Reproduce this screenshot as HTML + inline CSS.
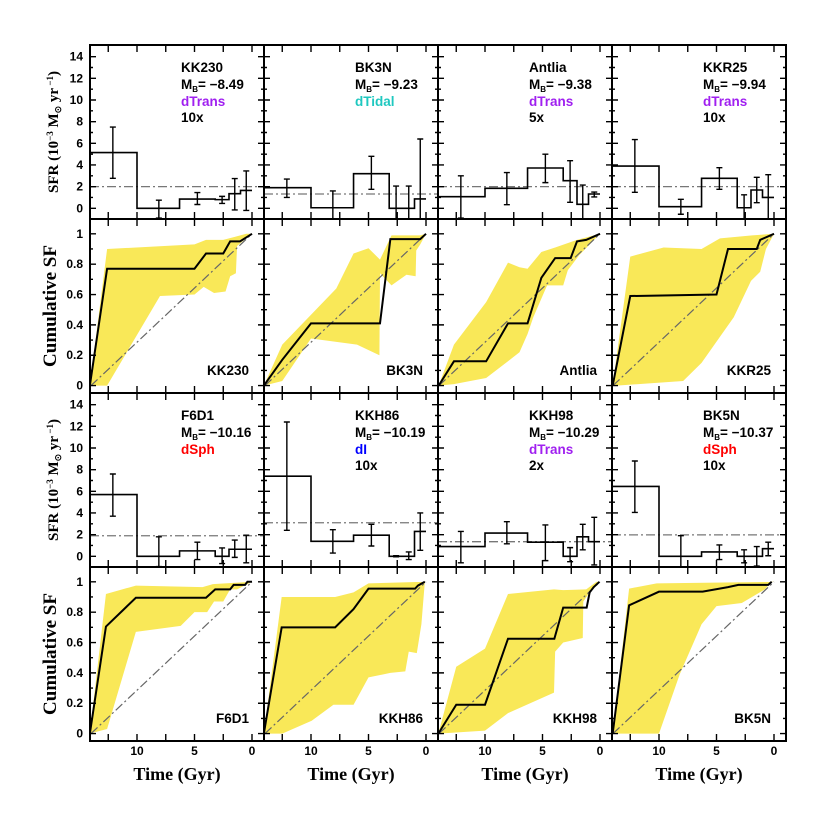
<!DOCTYPE html>
<html><head><meta charset="utf-8"><style>
html,body{margin:0;padding:0;background:#fff;}
svg{display:block;}
text{font-family:"Liberation Sans",sans-serif;font-weight:bold;}
.title{font-family:"Liberation Serif",serif;font-weight:bold;}
</style></head><body>
<svg id="fig" width="830" height="830" viewBox="0 0 830 830" xmlns="http://www.w3.org/2000/svg">
<rect width="830" height="830" fill="#fff"/>
<g id="bands"></g><g id="lines"></g><g id="frames"></g><g id="labels"></g>
<text class="title" x="177" y="780" font-size="18" text-anchor="middle">Time (Gyr)</text>
<text class="title" x="351" y="780" font-size="18" text-anchor="middle">Time (Gyr)</text>
<text class="title" x="525" y="780" font-size="18" text-anchor="middle">Time (Gyr)</text>
<text class="title" x="699" y="780" font-size="18" text-anchor="middle">Time (Gyr)</text>
<text class="title" transform="translate(58,132) rotate(-90)" font-size="15" text-anchor="middle">SFR (10<tspan dy="-5" font-size="9">−3</tspan><tspan dy="5"> M</tspan><tspan dy="3" font-size="9">⊙</tspan><tspan dy="-3"> yr</tspan><tspan dy="-5" font-size="9"> −1</tspan><tspan dy="5">)</tspan></text>
<text class="title" transform="translate(58,480) rotate(-90)" font-size="15" text-anchor="middle">SFR (10<tspan dy="-5" font-size="9">−3</tspan><tspan dy="5"> M</tspan><tspan dy="3" font-size="9">⊙</tspan><tspan dy="-3"> yr</tspan><tspan dy="-5" font-size="9"> −1</tspan><tspan dy="5">)</tspan></text>
<text class="title" transform="translate(56,306) rotate(-90)" font-size="19" text-anchor="middle">Cumulative SF</text>
<text class="title" transform="translate(56,654) rotate(-90)" font-size="19" text-anchor="middle">Cumulative SF</text>
</svg>
<script>
const names=["KK230","BK3N","Antlia","KKR25","F6D1","KKH86","KKH98","BK5N"];
const mbs=["−8.49","−9.23","−9.38","−9.94","−10.16","−10.19","−10.29","−10.37"];
const types=["dTrans","dTidal","dTrans","dTrans","dSph","dI","dTrans","dSph"];
const scales=["10x","","5x","10x","","10x","2x","10x"];
const binEdges=[14.1,10,6.3,3.2,2,1,0];
const errT=[12.1,8.1,4.75,2.6,1.5,0.5];
const sfrVals=[[5.15,0,0.85,0.8,1.35,1.65],[1.9,0.05,3.2,0,0,0.86],[1.07,1.85,3.72,2.55,0.37,1.32],[3.9,0.15,2.77,0.05,1.69,1.0],[5.7,0,0.5,0,0.65,0.65],[7.4,1.38,1.95,0,0,2.3],[0.9,2.15,1.3,0,1.8,1.35],[6.45,0,0.4,0,0,0.7]];
const sfrLo=[[2.77,-0.9,0.35,0.45,-0.15,-0.2],[1.0,-1.1,1.75,-1,-1,-1],[-0.9,0.33,2.37,0.55,-1,1.05],[1.48,-0.55,1.75,-1,0.52,-1],[3.7,-0.95,-0.3,-0.67,-0.1,-0.6],[2.4,0.3,0.95,-0.05,-0.3,0.55],[-0.6,1.15,-0.4,-0.5,0.6,-0.8],[4.05,-1,-0.3,-0.6,-0.9,0.05]];
const sfrHi=[[7.5,0.75,1.45,1.1,2.75,3.45],[2.7,1.6,4.8,2.05,2.05,6.4],[3.0,3.3,5.0,4.4,2.15,1.5],[6.35,0.83,3.75,1.25,2.86,3.1],[7.6,1.8,1.3,0.77,1.5,1.95],[12.4,2.46,2.95,0.05,0.4,4.0],[2.3,3.2,2.9,0.8,2.95,3.6],[8.8,1.9,1.05,0.6,0.9,1.3]];
const sfrMean=[2.0,1.32,2.0,2.0,1.9,3.1,1.35,1.98];
const cumT=[[14.1,12.6,5.0,4.0,2.5,1.9,1.04,0],[14.1,12.5,10,4.0,3.1,0.5,0],[14.03,12.7,9.9,8.0,6.3,5.1,3.9,2.55,2.0,1.2,0],[14.03,12.5,5.0,4.0,1.5,1.2,0],[14.1,12.7,10.1,4.0,3.2,1.9,1.6,0.6,0.4,0],[14.1,12.55,7.9,6.3,5.0,0.95,0.7,0.1],[14.06,12.5,10,8.0,3.97,3.2,1.16,0.9,0.55,0.05],[14.03,12.6,10,6.2,4.0,3.1,0.5,0.2]];
const cumV=[[0,0.77,0.77,0.87,0.87,0.95,0.95,1],[0,0.17,0.41,0.41,0.965,0.965,1],[0,0.16,0.16,0.41,0.41,0.71,0.84,0.84,0.95,0.96,1],[0,0.59,0.6,0.9,0.9,0.96,1],[0,0.705,0.895,0.895,0.95,0.95,0.98,0.98,1,1],[0,0.7,0.7,0.82,0.955,0.955,0.975,1],[0,0.19,0.19,0.625,0.625,0.83,0.83,0.93,0.965,1],[0,0.845,0.935,0.935,0.965,0.98,0.98,1]];
const upT=[[14.1,12.6,5,4,2.5,1.5,0.5,0],[14.1,12.5,7.8,6.3,5.0,4.0,3.0,0.5,0],[14.03,12.7,9.9,8,7,6.3,5.1,3.9,2,0],[14.03,12.5,9.6,6.3,4.7,1.9,0],[14.1,12.7,10.1,4.3,3.4,0],[14.1,12.55,7.9,6.3,5,0],[14.06,12.5,10,8,4,3.2,1.2,0.3],[14.03,12.6,10.2,0]];
const upV=[[0,0.9,0.93,0.96,0.96,0.98,1,1],[0,0.27,0.64,0.87,0.905,0.83,0.99,0.99,1],[0,0.27,0.55,0.81,0.78,0.77,0.88,0.91,0.96,1],[0,0.85,0.91,0.9,0.97,0.99,1],[0,0.92,0.975,0.965,0.985,1],[0,0.9,0.9,0.93,0.99,1],[0,0.44,0.56,0.92,0.95,0.945,0.95,1],[0,0.955,0.99,1]];
const loT=[[14.1,12.6,8.0,5.0,4.2,3.3,2.3,1.9,1.4,1.3,0.2,0],[14.1,12.5,10,6,4.05,4.0,3.0,1.7,0.9,0.85,0.5,0],[14.03,12.7,9.9,8,7,6.3,5.8,4.6,3.2,2.8,1.8,0],[14.03,13.7,7.9,6.3,3.5,2.0,1.2,0.7,0],[14.1,12.6,10.1,6.2,5.0,3.9,3.3,2.5,1.9,1.3,0],[14.1,12.5,9.94,8.05,6.3,5.0,3.1,1.8,1.5,0.8,0.4,0.1],[14.06,10,8,4,3.9,3.2,1.5,1.45,0.9,0.05],[14.03,10,8.2,6.3,5.0,2.8,0.8,0.2]];
const loV=[[0,0,0.59,0.6,0.65,0.61,0.62,0.72,0.74,0.92,0.99,1],[0,0.03,0.31,0.27,0.2,0.74,0.66,0.73,0.72,0.89,0.93,1],[0,0.01,0.05,0.16,0.22,0.34,0.45,0.66,0.66,0.76,0.86,1],[0,0,0.03,0.15,0.45,0.69,0.75,0.9,1],[0,0.03,0.67,0.71,0.8,0.8,0.87,0.87,0.95,0.95,1],[0,0,0.085,0.19,0.19,0.37,0.4,0.41,0.54,0.53,0.72,1],[0,0.02,0.135,0.27,0.54,0.6,0.63,0.87,0.93,1],[0,0,0.39,0.72,0.84,0.86,0.95,1]];
const sfrTicks=[0,2,4,6,8,10,12,14];
const cumTicks=[0,0.2,0.4,0.6,0.8,1];
const cumTickLabels=["0","0.2","0.4","0.6","0.8","1"];
const timeTicks=[10,5,0];
const typeColors={dTrans:"#a020f0",dTidal:"#1fc8c0",dSph:"#ff0000",dI:"#0000ff"};

const NS="http://www.w3.org/2000/svg";
const svg=document.getElementById('fig');
const gB=document.getElementById('bands'),gL=document.getElementById('lines'),gF=document.getElementById('frames'),gT=document.getElementById('labels');
const W=174,H=174,rowTops=[45,219,393,567];
function mk(tag,attrs,parent){const e=document.createElementNS(NS,tag);for(const k in attrs)e.setAttribute(k,attrs[k]);parent.appendChild(e);return e;}
function xs(left,t){return left+162-11.5*t;}
function ysfr(top,v){return top+163.3-10.83*v;}
function ycum(top,v){return top+166.6-151.8*v;}
const defs=mk('defs',{},svg);

for(let i=0;i<8;i++){
  const col=i%4, blk=Math.floor(i/4);
  const left=90+col*W, tS=rowTops[blk*2], tC=rowTops[blk*2+1];
  const cpS=mk('clipPath',{id:'cs'+i},defs); mk('rect',{x:left,y:tS,width:W,height:H},cpS);
  const cpC=mk('clipPath',{id:'cc'+i},defs); mk('rect',{x:left,y:tC,width:W,height:H},cpC);
  const gs=mk('g',{'clip-path':'url(#cs'+i+')'},gL);
  
  
  const mean=mk('line',{x1:left,x2:left+W,y1:ysfr(tS,sfrMean[i]),y2:ysfr(tS,sfrMean[i]),stroke:'#777','stroke-width':1.3,'stroke-dasharray':'9 3 2 3'},gs);
  
  
  let d='';
  for(let b=0;b<6;b++){
    const y=ysfr(tS,sfrVals[i][b]);
    d+=(b===0?'M'+xs(left,binEdges[b]):'L'+xs(left,binEdges[b]))+','+y+'L'+xs(left,binEdges[b+1])+','+y;
  }
  const st=mk('path',{d:d,fill:'none',stroke:'#000','stroke-width':1.6},gs);
  
  
  for(let b=0;b<6;b++){
    const x=xs(left,errT[b]),y1=ysfr(tS,sfrLo[i][b]),y2=ysfr(tS,sfrHi[i][b]);
    const eb=mk('path',{d:`M${x},${y1}L${x},${y2}M${x-3},${y1}L${x+3},${y1}M${x-3},${y2}L${x+3},${y2}`,stroke:'#000','stroke-width':1.4,fill:'none'},gs);
    
    
  }
  const gc=mk('g',{'clip-path':'url(#cc'+i+')'},gB);
  
  
  let pts=[];
  for(let k=0;k<upT[i].length;k++)pts.push(xs(left,upT[i][k])+','+ycum(tC,upV[i][k]));
  for(let k=loT[i].length-1;k>=0;k--)pts.push(xs(left,loT[i][k])+','+ycum(tC,loV[i][k]));
  const band=mk('polygon',{points:pts.join(' '),fill:'#f9e858',stroke:'none'},gc);
  
  
  const diag=mk('line',{x1:xs(left,14.0),y1:ycum(tC,0),x2:xs(left,0),y2:ycum(tC,1),stroke:'#666','stroke-width':1.2,'stroke-dasharray':'9 3 2 3'},gc);
  
  
  let lp=[];
  for(let k=0;k<cumT[i].length;k++)lp.push(xs(left,cumT[i][k])+','+ycum(tC,cumV[i][k]));
  const cl=mk('polyline',{points:lp.join(' '),fill:'none',stroke:'#000','stroke-width':2},gc);
  
  
  for(const [top,kind] of [[tS,'s'],[tC,'c']]){
    const fr=mk('rect',{x:left,y:top,width:W,height:H,fill:'none',stroke:'#000','stroke-width':2},gF);
    
    
    let td='';
    for(let t=12.5;t>=-0.01;t-=2.5){const x=xs(left,t);td+=`M${x},${top}L${x},${top+7}M${x},${top+H}L${x},${top+H-7}`;}
    if(kind==='s'){
      for(let v=-1;v<=15;v++){const y=ysfr(top,v);if(y<top+1||y>top+H-1)continue;const L=(v%2===0)?6:3;td+=`M${left},${y}L${left+L},${y}M${left+W},${y}L${left+W-L},${y}`;}
    }else{
      for(let k=0;k<=10;k++){const v=k/10;const y=ycum(top,v);const L=(k%2===0)?6:3;td+=`M${left},${y}L${left+L},${y}M${left+W},${y}L${left+W-L},${y}`;}
    }
    const tk=mk('path',{d:td,stroke:'#000','stroke-width':1.4,fill:'none'},gF);
    
    
  }
  const tx=left+91;
  const n1=mk('text',{x:tx,y:tS+27,'font-size':13.5},gT); n1.textContent=names[i];
  
  
  const m1=mk('text',{x:tx,y:tS+44,'font-size':13.5},gT);
  
  
  const a=document.createElementNS(NS,'tspan');a.textContent='M';m1.appendChild(a);
  const b=document.createElementNS(NS,'tspan');b.setAttribute('font-size','8');b.setAttribute('dy','3');b.textContent='B';m1.appendChild(b);
  const c=document.createElementNS(NS,'tspan');c.setAttribute('dy','-3');c.textContent='= '+mbs[i];m1.appendChild(c);
  const ty=mk('text',{x:tx,y:tS+61,'font-size':13.5,fill:typeColors[types[i]]},gT); ty.textContent=types[i];
  
  
  if(scales[i]){const sc=mk('text',{x:tx,y:tS+77,'font-size':13.5},gT);sc.textContent=scales[i];
    
    }
  const n2=mk('text',{x:left+W-15,y:tC+156,'font-size':13.5,'text-anchor':'end'},gT); n2.textContent=names[i];
  
  
  if(col===0){
    sfrTicks.forEach(v=>{const e=mk('text',{x:left-7,y:ysfr(tS,v)+4,'font-size':12,'text-anchor':'end'},gT);e.textContent=v;
      
      });
    cumTicks.forEach((v,k)=>{const e=mk('text',{x:left-7,y:ycum(tC,v)+4,'font-size':12,'text-anchor':'end'},gT);e.textContent=cumTickLabels[k];
      
      });
  }
  if(blk===1){
    timeTicks.forEach(t=>{const e=mk('text',{x:xs(left,t),y:755,'font-size':12,'text-anchor':'middle'},gT);e.textContent=t;
      
      });
  }
}
</script>
</body></html>
